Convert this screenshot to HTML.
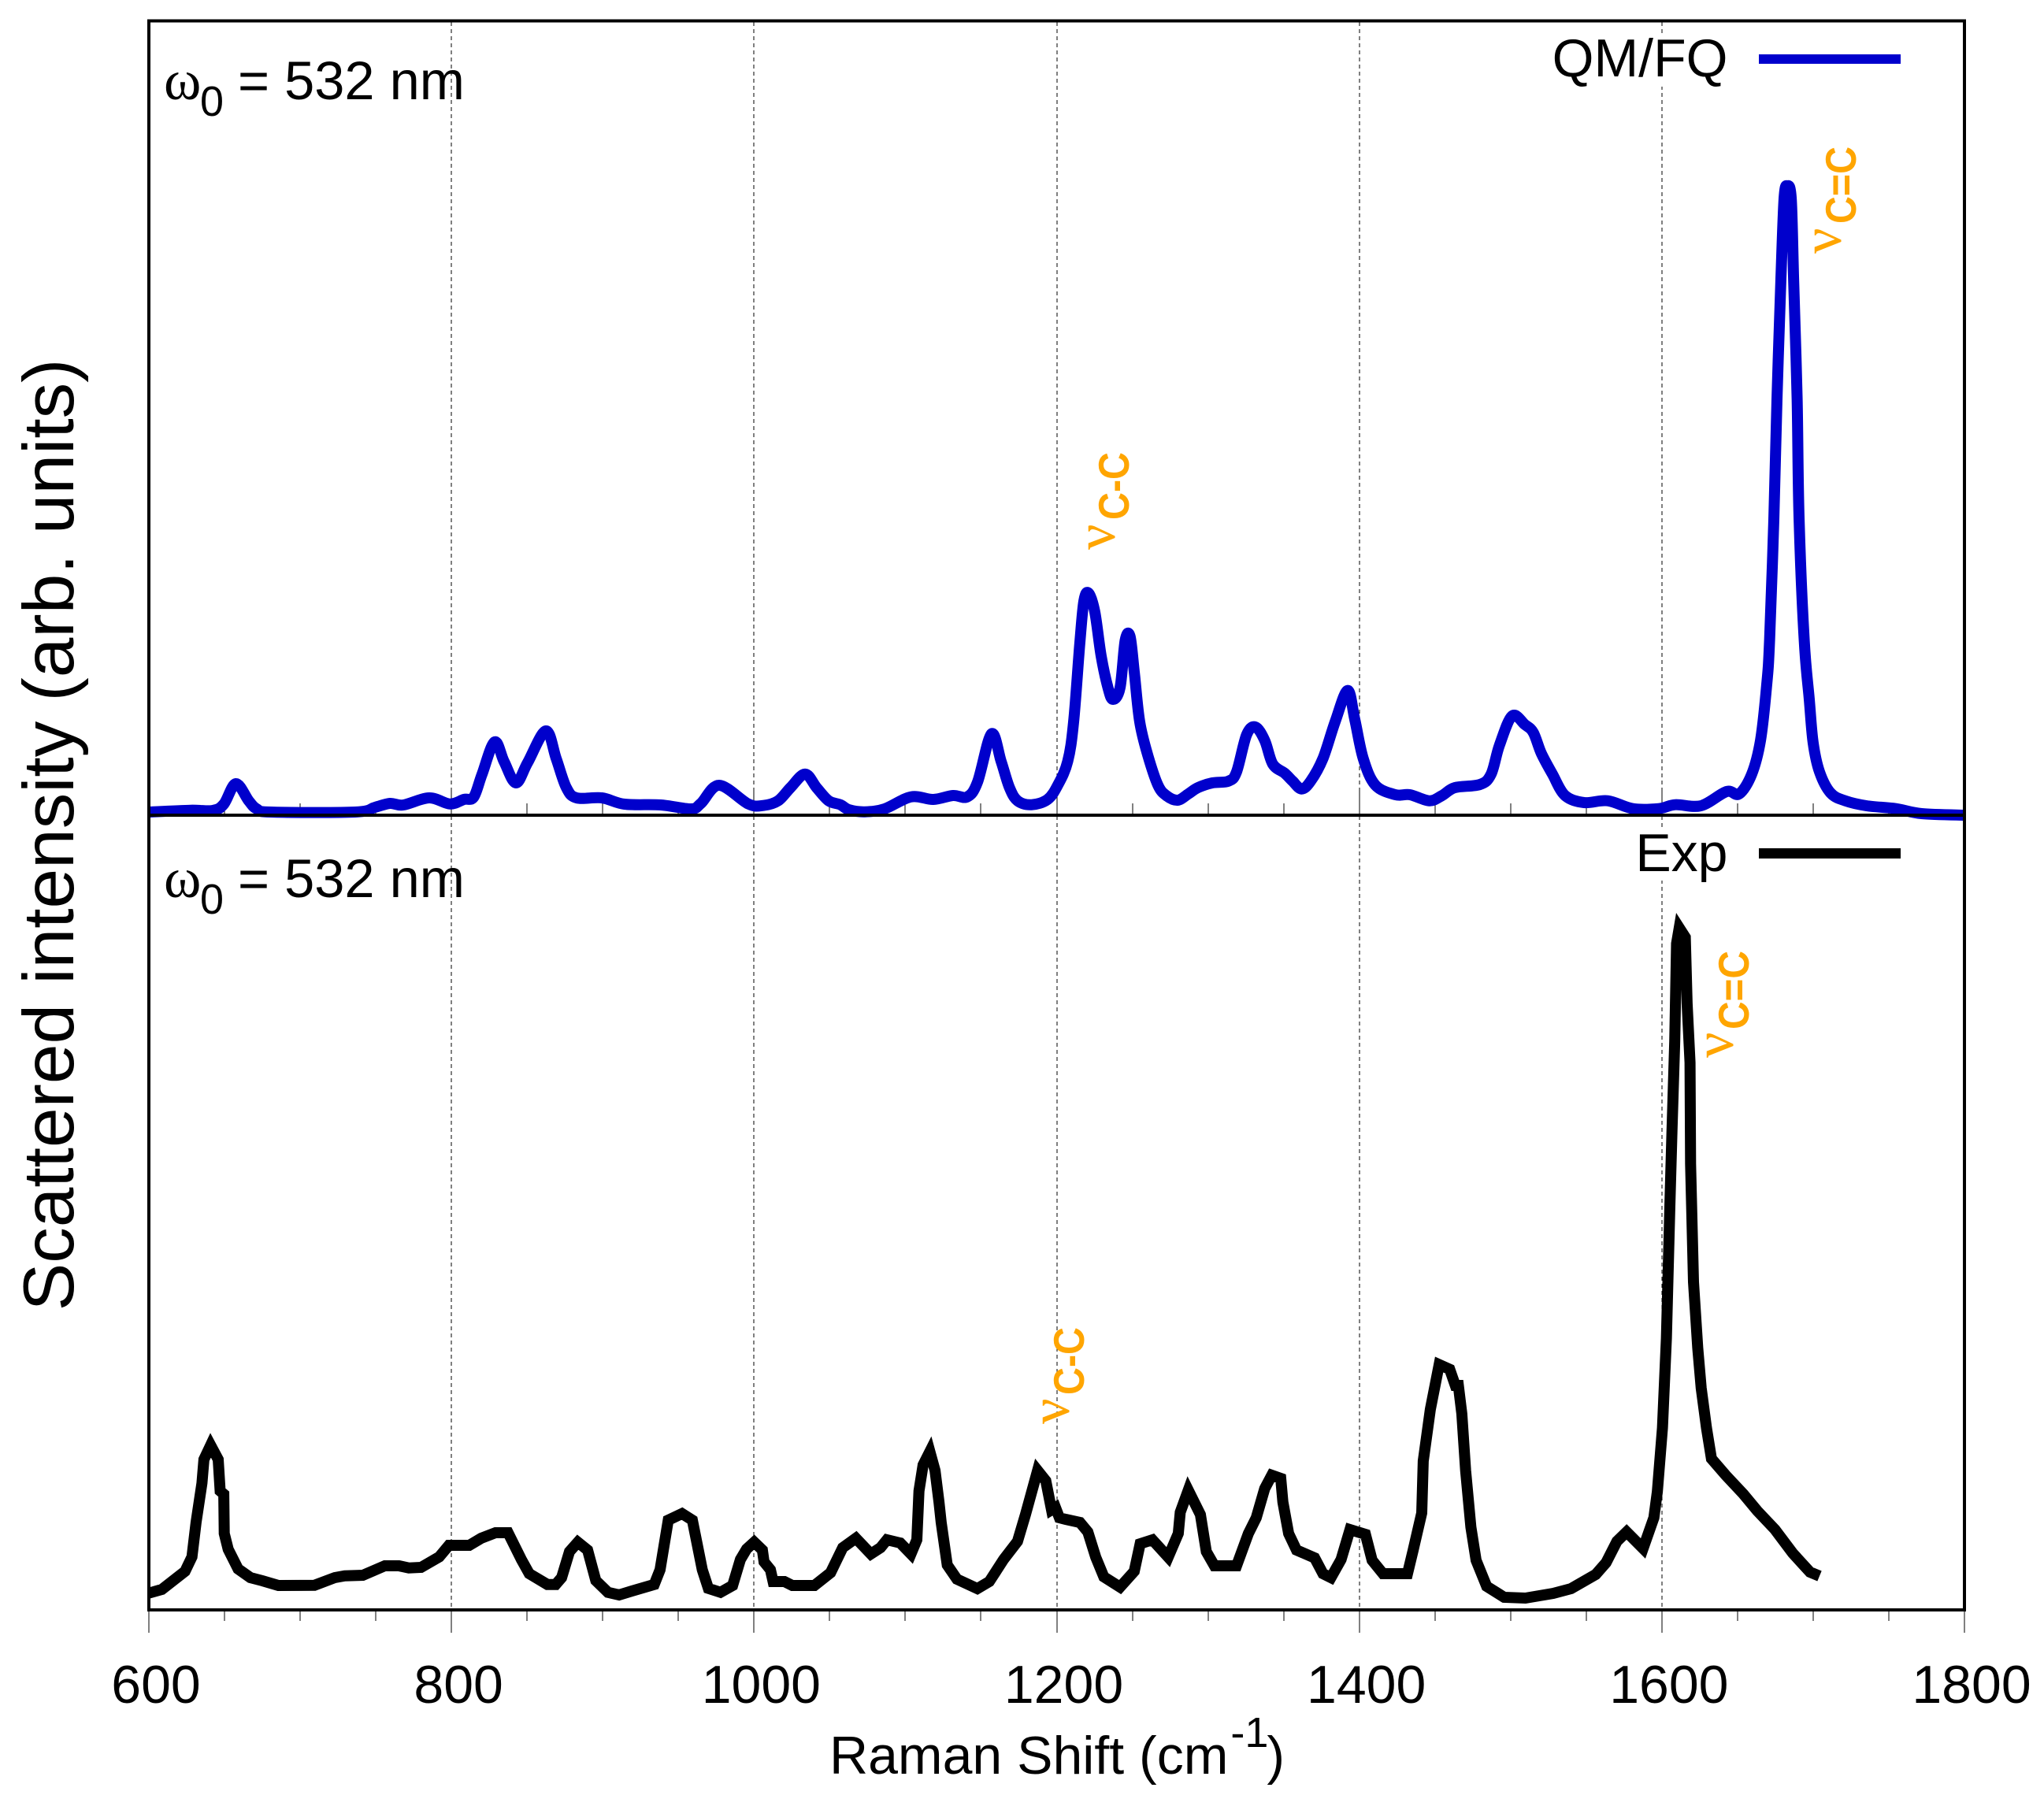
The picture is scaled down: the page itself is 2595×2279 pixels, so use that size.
<!DOCTYPE html>
<html lang="en">
<head>
<meta charset="utf-8">
<title>Raman spectra QM/FQ vs Exp</title>
<style>
html,body{margin:0;padding:0;background:#fff;}
svg{display:block;font-family:"Liberation Sans",sans-serif;}
.t{font-size:68px;fill:#000;}
.w{font-size:68.6px;fill:#000;}
.sub{font-size:54px;fill:#000;}
.sym{font-family:"Liberation Serif",serif;font-size:72px;fill:#000;}
.nu{font-family:"Liberation Serif",serif;font-size:72px;fill:#FFA500;}
.vib{font-size:55px;font-weight:bold;fill:#FFA500;}
</style>
</head>
<body>
<svg id="chart" xmlns="http://www.w3.org/2000/svg" width="2595" height="2279" viewBox="0 0 2595 2279">
  <rect x="0" y="0" width="2595" height="2279" fill="#fff"/>
  <g id="grid"></g>
  <rect x="1960" y="42" width="460" height="68" fill="#fff"/>
  <rect x="1960" y="1050" width="460" height="68" fill="#fff"/>
  <g id="ticks"></g>

  <path id="qmfq-line" fill="none" stroke="#0000CC" stroke-width="14" stroke-linejoin="round"/>
  <path id="exp-line" fill="none" stroke="#000" stroke-width="14" stroke-linejoin="miter" stroke-miterlimit="6"/>

  <g fill="none" stroke="#000" stroke-width="3.6" shape-rendering="crispEdges">
    <rect x="189" y="26.5" width="2305" height="2017.5"/>
    <line x1="189" y1="1035" x2="2494" y2="1035"/>
  </g>

  <g>
    <text class="sym" x="208" y="126">ω</text>
    <text class="sub" x="254" y="147">0</text>
    <text class="w" x="302" y="126">= 532 nm</text>
  </g>
  <g>
    <text class="sym" x="208" y="1139">ω</text>
    <text class="sub" x="254" y="1160">0</text>
    <text class="w" x="302" y="1139">= 532 nm</text>
  </g>

  <g>
    <text class="t" x="2193.5" y="97" text-anchor="end">QM/FQ</text>
    <rect x="2233" y="69" width="180" height="12" fill="#0000CC"/>
  </g>
  <g>
    <text class="t" x="2193.5" y="1106" text-anchor="end">Exp</text>
    <rect x="2233" y="1077" width="180" height="13" fill="#000"/>
  </g>

  <g>
    <text class="nu" transform="translate(2337 322) rotate(-90)">ν</text>
    <text class="vib" transform="translate(2356 284) rotate(-90)" textLength="98" lengthAdjust="spacingAndGlyphs">C=C</text>
  </g>
  <g>
    <text class="nu" transform="translate(1415 698) rotate(-90)">ν</text>
    <text class="vib" transform="translate(1433 660) rotate(-90)" textLength="86" lengthAdjust="spacingAndGlyphs">C-C</text>
  </g>
  <g>
    <text class="nu" transform="translate(2200 1343) rotate(-90)">ν</text>
    <text class="vib" transform="translate(2220 1307) rotate(-90)" textLength="100" lengthAdjust="spacingAndGlyphs">C=C</text>
  </g>
  <g>
    <text class="nu" transform="translate(1357 1808) rotate(-90)">ν</text>
    <text class="vib" transform="translate(1376 1771) rotate(-90)" textLength="86" lengthAdjust="spacingAndGlyphs">C-C</text>
  </g>

  <g id="tick-labels"></g>

  <text class="t" x="1053" y="2252">Raman Shift (cm<tspan font-size="54" dx="3" dy="-34">-1</tspan><tspan dx="-2" dy="34">)</tspan></text>
  <text fill="#000" font-size="91" text-anchor="middle" transform="translate(93 1060) rotate(-90)">Scattered intensity (arb. units)</text>
</svg>
<script>
var xTickValues = [600, 800, 1000, 1200, 1400, 1600, 1800];
var xTickLabels = ['600', '800', '1000', '1200', '1400', '1600', '1800'];
var minorTickValues = [650, 700, 750, 850, 900, 950, 1050, 1100, 1150, 1250, 1300, 1350, 1450, 1500, 1550, 1650, 1700, 1750];

var qmfqShift = [600,627.6,642.2,649.5,657.5,666.1,671.3,680.7,736.4,749.4,759.3,768.2,785.3,798.9,808.2,814.7,820.2,828.5,834.8,842.6,850.4,862.4,869.2,875.9,882.7,899.4,914.4,938.4,958.2,964.9,976.9,996.2,1006.1,1015.9,1024.1,1033.7,1041.3,1049.3,1057.1,1062.6,1073.2,1086.2,1103.7,1118.4,1131.5,1140.9,1147.7,1156.9,1163.3,1168.8,1174.2,1183.4,1194,1200.8,1207.3,1211.2,1215.3,1218,1221.1,1225.2,1229.4,1233.9,1237.2,1241.9,1245.3,1248.5,1251.3,1254.9,1260.4,1266.9,1272.4,1279.9,1287,1293.4,1302.8,1313.6,1318.9,1325.5,1331.4,1337.5,1342.8,1350.7,1355.9,1361.9,1367.9,1376,1384,1392.3,1397,1402.6,1410.6,1423.9,1433.5,1446.3,1454.8,1463.2,1479.8,1487.1,1492.6,1501,1509.5,1515,1520.4,1527.7,1536,1548.6,1564.2,1580.8,1597.8,1608.9,1625.9,1642.7,1651.1,1659.4,1665.2,1669.3,1671.2,1674,1676.1,1678.7,1680.8,1682.9,1685.5,1687.1,1689.4,1690.7,1694.1,1697.4,1700,1704.2,1711.5,1721.2,1735.2,1754.7,1771.7,1800];
var qmfqIntensity = [0.4,0.63,0.6,1.4,4,1.8,0.8,0.4,0.4,1,1.5,1.3,2.2,1.43,2,2.3,5.2,9.3,6.8,4.1,6.7,10.7,7.2,3.5,2.2,2.2,1.4,1.3,0.8,1.5,3.8,1.43,1.23,1.83,3.5,5.23,3.5,1.83,1.33,0.7,0.43,0.8,2.33,2,2.5,2.33,4.2,10.33,6.83,3.5,1.83,1.33,2,3.83,6.83,11.83,21.83,27.2,28.2,25.83,20.2,16.2,14.7,16.2,22.2,22.7,18.2,11.83,7.5,3.83,2.5,1.9,2.7,3.5,4.1,4.33,5.5,10.2,11.2,9.5,6.5,5.33,4.33,3.33,4.33,7.2,11.83,15.83,12.2,7.2,3.83,2.6,2.6,1.83,2.5,3.5,3.9,5.2,8.83,12.6,11.5,10.5,7.83,5.2,2.5,1.6,1.83,0.83,0.83,1.33,1.2,3,2.7,5.2,9.5,16.5,22.2,37.5,52.8,68.1,78.3,79.9,78.3,68.1,52.8,37.5,22.2,14.8,9.2,5.5,2.83,1.83,1.2,0.83,0.2,0];

var expShift = [600,608.6,623.9,628.5,631.2,635.1,636.4,640.8,645.8,647.1,649.5,649.8,652.4,659,667.1,675,685.6,709.5,722.9,729.5,741.4,756,765.3,771.8,779.9,791.9,798.3,811.8,819.7,829.1,837.4,846.2,851.4,863.4,868.9,872.8,878,883.5,890,895.4,903.4,910.8,919.3,934,937.9,943.3,952.4,959.2,965.8,969.8,977.8,985.8,991,995.1,1000.1,1005.5,1006.6,1010.8,1012.6,1020.1,1025.3,1039.9,1050.6,1058.6,1067.3,1077.2,1083.6,1087.8,1096.6,1103.7,1107.6,1109,1111.7,1116.2,1119.6,1122.2,1123.7,1127.7,1134.1,1147.6,1155.5,1164.9,1174.1,1179.4,1187.4,1192.8,1196.6,1199.2,1201.8,1206,1215.4,1220.6,1225.8,1231.2,1241.9,1251.3,1255.2,1263.3,1273.7,1280.4,1281.7,1287,1295,1298.9,1304.3,1318.9,1326.7,1331.9,1337.5,1342.2,1348.1,1349.5,1353.3,1358.5,1370.5,1376,1381.3,1388,1393.9,1404.1,1408.5,1415.7,1431.9,1435.5,1441.3,1442.3,1447,1452.8,1459.8,1463.5,1465.5,1467.8,1470.3,1473.8,1477.2,1484.2,1495.8,1509.8,1528.2,1540,1556.3,1563.1,1570.3,1576.7,1587.6,1594.7,1597,1600.4,1603,1605.3,1606.7,1608.5,1609.7,1611.5,1615.5,1616.7,1618.6,1619,1620.9,1623.7,1626,1629.5,1632.8,1642.2,1653.9,1663,1674.8,1686.5,1697.9,1704.2];
var expIntensity = [2.13,2.6,4.9,6.73,11.1,16.1,19.1,20.9,19.1,15.1,14.7,9.7,7.7,5.2,4.1,3.7,3.1,3.13,4.1,4.33,4.4,5.6,5.6,5.33,5.4,6.73,8.2,8.2,9.1,9.8,9.8,6.4,4.6,3.23,3.23,4.1,7.4,8.6,7.6,3.73,2.23,1.9,2.4,3.23,5.1,11.4,12.23,11.4,5.1,2.73,2.23,3.1,6.4,7.73,8.6,7.6,6.1,5.1,3.6,3.6,3.1,3.1,4.73,7.9,9.1,7.1,7.9,8.9,8.5,7.1,8.9,15.1,18.4,20.1,17.7,13.7,11.1,5.7,3.9,2.7,3.6,6.4,8.7,12.1,17.7,16.4,12.7,13,11.7,11.5,11.1,9.9,6.7,4.2,2.9,4.9,8.4,8.9,6.7,9.7,12.4,15.2,12.1,7.4,5.6,5.6,9.7,11.7,15.4,17.1,16.7,13.7,9.7,7.6,6.6,4.6,4.1,6.4,10.2,9.6,6.3,4.6,4.6,7.5,12.3,18.9,25.45,31.15,30.55,28.5,28.5,24.9,17.7,10.5,6.3,3,1.6,1.5,2.1,2.7,4.5,6,8.7,9.9,7.8,11.7,15,23.1,34.45,51.24,60.83,72.22,84.6,86.6,85.4,77,69.5,56.63,41.64,33.25,28.15,23.1,19.2,17.1,14.7,12.6,10.2,7.2,4.8,4.3];

var SVGNS = 'http://www.w3.org/2000/svg';
var X_LEFT = 189, X_RIGHT = 2494, X_MIN = 600, X_MAX = 1800;
var TOP_BASE = 1035, BOTTOM_BASE = 2044, PX_PER_UNIT = 10;

function xPos(v) { return X_LEFT + (v - X_MIN) * (X_RIGHT - X_LEFT) / (X_MAX - X_MIN); }
function yTop(v) { return TOP_BASE - v * PX_PER_UNIT; }
function yBottom(v) { return BOTTOM_BASE - v * PX_PER_UNIT; }

function linePath(xs, ys, yFn) {
  var d = '';
  for (var i = 0; i < xs.length; i++) {
    d += (i ? 'L' : 'M') + xPos(xs[i]).toFixed(1) + ' ' + yFn(ys[i]).toFixed(1);
  }
  return d;
}

function smoothPath(xs, ys, yFn) {
  var px = xs.map(xPos);
  var py = ys.map(yFn);
  var n = px.length;
  var d = 'M' + px[0].toFixed(1) + ' ' + py[0].toFixed(1);
  for (var i = 0; i < n - 1; i++) {
    var a = Math.max(i - 1, 0), b = Math.min(i + 2, n - 1);
    var c1x = px[i] + (px[i + 1] - px[a]) / 6;
    var c1y = py[i] + (py[i + 1] - py[a]) / 6;
    var c2x = px[i + 1] - (px[b] - px[i]) / 6;
    var c2y = py[i + 1] - (py[b] - py[i]) / 6;
    d += 'C' + c1x.toFixed(1) + ' ' + c1y.toFixed(1) + ' ' + c2x.toFixed(1) + ' ' + c2y.toFixed(1) + ' ' + px[i + 1].toFixed(1) + ' ' + py[i + 1].toFixed(1);
  }
  return d;
}

document.getElementById('qmfq-line').setAttribute('d', smoothPath(qmfqShift, qmfqIntensity, yTop));
document.getElementById('exp-line').setAttribute('d', linePath(expShift, expIntensity, yBottom));

function addLine(parent, x, y1, y2, w, dash) {
  var el = document.createElementNS(SVGNS, 'line');
  el.setAttribute('x1', x);
  el.setAttribute('x2', x);
  el.setAttribute('y1', y1);
  el.setAttribute('y2', y2);
  el.setAttribute('stroke', '#000');
  el.setAttribute('stroke-width', w);
  el.setAttribute('shape-rendering', 'crispEdges');
  if (dash) el.setAttribute('stroke-dasharray', dash);
  parent.appendChild(el);
  return el;
}

var gridGroup = document.getElementById('grid');
var tickGroup = document.getElementById('ticks');
var labelGroup = document.getElementById('tick-labels');

xTickValues.forEach(function (v, i) {
  var px = Math.round(xPos(v));
  if (i > 0 && i < xTickValues.length - 1) {
    var g = addLine(gridGroup, px, 28, 2044, 1.2, '5 4');
    
    
    var t1 = addLine(tickGroup, px, 1005, 1035, 1.2);
    
    
  }
  var t2 = addLine(tickGroup, px, 2044, 2073, 1.2);
  
  
  var label = document.createElementNS(SVGNS, 'text');
  
  
  label.setAttribute('class', 't');
  label.setAttribute('x', xPos(v) + 9);
  label.setAttribute('y', 2162);
  label.setAttribute('text-anchor', 'middle');
  label.textContent = xTickLabels[i];
  labelGroup.appendChild(label);
});

minorTickValues.forEach(function (v) {
  var px = Math.round(xPos(v));
  var t1 = addLine(tickGroup, px, 1020, 1035, 1.2);
  
  
  var t2 = addLine(tickGroup, px, 2044, 2058, 1.2);
  
  
});
</script>
</body>
</html>
